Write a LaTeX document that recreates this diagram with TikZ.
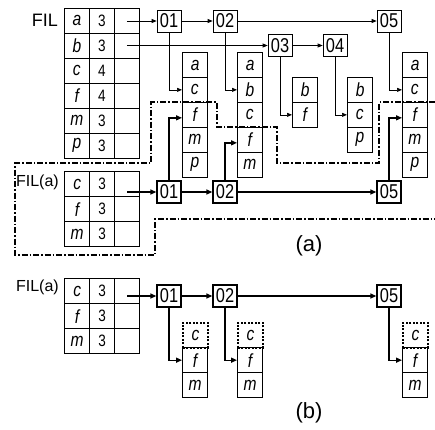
\documentclass[tikz,border=0pt]{standalone}
\usepackage{fontspec}
\setmainfont{Liberation Sans}
\newfontfamily\narrowfont{Liberation Sans}[FakeStretch=0.82]
\usetikzlibrary{arrows.meta}
\newcommand{\lt}[1]{{\fontsize{19}{19}\selectfont\itshape #1}}

\begin{document}
\begin{tikzpicture}[x=1pt, y=-1pt, font=\narrowfont\fontsize{16.5}{16.5}\selectfont,
  cell/.style={draw, line width=#1, minimum width=25pt, minimum height=25pt,
               inner sep=0pt, anchor=north west},
  cell/.default=0.7pt,
  dcell/.style={cell=1.8pt, dash pattern=on 2pt off 1.5pt},
  bx/.style={draw, line width=#1, minimum width=24pt, minimum height=22pt, inner sep=0pt,
             font=\narrowfont\fontsize{20}{20}\selectfont},
  bx/.default=0.7pt,
  lbl/.style={font=\rmfamily\fontsize{16}{16}\selectfont, anchor=east, inner sep=1pt},
  flow/.style={-{Triangle[length=5pt,width=4pt]}, line width=0.7pt},
  flowb/.style={-{Triangle[length=6pt,width=5pt]}, line width=1.3pt},
  region/.style={line width=1.1pt, dash pattern=on 6pt off 2pt on 1.5pt off 2pt}]
\useasboundingbox (0,0) rectangle (435,429);
% -- (a): FIL table
\node[lbl, font=\rmfamily\fontsize{18}{18}\selectfont] (fil) at (59,20) {FIL};
\foreach \l/\n [count=\i] in {a/3,b/3,c/4,f/4,m/3,p/3} {
  \node[cell] (f-\i-1) at (64,{8+25*(\i-1)}) {\lt{\l}};
  \node[cell] (f-\i-2) at (89,{8+25*(\i-1)}) {\n};
  \node[cell] (f-\i-3) at (114,{8+25*(\i-1)}) {};
}
% -- (a): header list
\node[bx] (b01) at (169,21) {01};
\node[bx] (b02) at (225,21) {02};
\node[bx] (b05) at (389,21) {05};
\node[bx] (b03) at (280,45.5) {03};
\node[bx] (b04) at (335,45.5) {04};
\foreach \x/\t/\ls/\k in {182/52/{a,c,f,m,p}/1, 237/52/{a,b,c,f,m}/2,
    292/77/{b,f}/3, 347/77/{b,c,p}/4, 402/52/{a,c,f,m,p}/5} {
  \foreach \l [count=\i] in \ls {
    \ifnum\i>1 \node[cell] (c\k-\i) at (\x,{\t+25*(\i-1)}) {\lt{\l}}; \fi
  }
  \foreach \l [count=\i] in \ls {
    \ifnum\i=1 \node[cell=1.3pt] (c\k-\i) at (\x,\t) {\lt{\l}}; \fi
  }
}
\draw[flow] (f-1-3 |- b01) -- (b01);
\draw[flow] (f-2-3 |- b03) -- (b03);
\foreach \a/\b in {b01/b02,b02/b05,b03/b04} \draw[flow] (\a) -- (\b);
\foreach \b/\k in {b01/1,b02/2,b03/3,b04/4,b05/5} \draw[flow] (\b) |- (c\k-2);
% -- (a): FIL(a) table and its links
\node[lbl] (fila) at (60,182) {FIL(a)};
\foreach \l [count=\i] in {c,f,m} {
  \node[cell=1.3pt] (g-\i-1) at (64,{171+25*(\i-1)}) {\lt{\l}};
  \node[cell=1.3pt] (g-\i-2) at (89,{171+25*(\i-1)}) {3};
  \node[cell=1.3pt] (g-\i-3) at (114,{171+25*(\i-1)}) {};
}
\node[bx=1.3pt] (m01) at (169,192) {01};
\node[bx=1.3pt] (m02) at (225,192) {02};
\node[bx=1.3pt] (m05) at (389,192) {05};
\draw[flowb] (g-1-3 |- m01) -- (m01);
\foreach \a/\b in {m01/m02,m02/m05} \draw[flowb] (\a) -- (\b);
\foreach \b/\c in {m01/c1-3,m02/c2-4,m05/c5-3} \draw[flowb] (\b) |- ([yshift=-3pt]\c.west);
% -- (a): conditional region
\draw[region] (435,102) -- (379,102) -- (379,163) -- (277,163) -- (277,127) -- (217,127)
  -- (217,102) -- (151,102) -- (151,163) -- (15,163) -- (15,255) -- (155,255)
  -- (155,219) -- (435,219);
\node[font=\rmfamily\fontsize{22}{22}\selectfont] (la) at (309,246) {(a)};
% -- (b): conditional FP-tree
\node[lbl] (filb) at (60,287) {FIL(a)};
\foreach \l [count=\i] in {c,f,m} {
  \node[cell=1.3pt] (h-\i-1) at (64,{278+25*(\i-1)}) {\lt{\l}};
  \node[cell=1.3pt] (h-\i-2) at (89,{278+25*(\i-1)}) {3};
  \node[cell=1.3pt] (h-\i-3) at (114,{278+25*(\i-1)}) {};
}
\node[bx=1.3pt] (n01) at (169,296) {01};
\node[bx=1.3pt] (n02) at (225,296) {02};
\node[bx=1.3pt] (n05) at (389,296) {05};
\foreach \x/\k in {182/1,237/2,402/3} {
  \node[dcell] (d\k-1) at (\x,322) {\lt{c}};
  \node[cell=1.3pt] (d\k-2) at (\x,347) {\lt{f}};
  \node[cell=1.3pt] (d\k-3) at (\x,372) {\lt{m}};
}
\draw[flowb] (h-1-3 |- n01) -- (n01);
\foreach \a/\b in {n01/n02,n02/n05} \draw[flowb] (\a) -- (\b);
\foreach \b/\k in {n01/1,n02/2,n05/3} \draw[flowb] (\b) |- (d\k-2);
\node[font=\rmfamily\fontsize{22}{22}\selectfont] (lb) at (309,413) {(b)};
\end{tikzpicture}
\end{document}
